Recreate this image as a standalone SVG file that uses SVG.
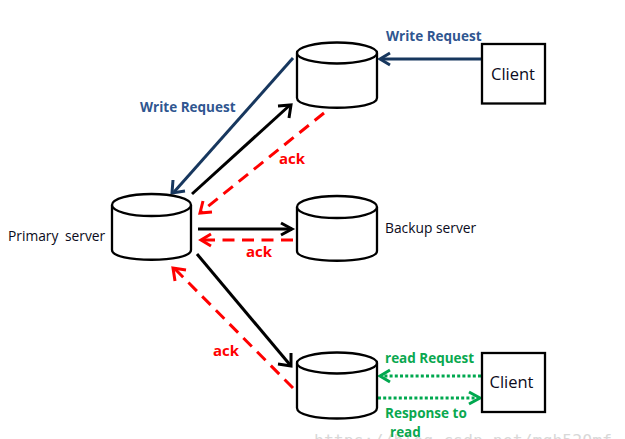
<svg xmlns="http://www.w3.org/2000/svg" width="625" height="439" viewBox="0 0 625 439">
<style>
.drum{fill:#fff;stroke:#000;stroke-width:2.3}
.box{fill:#fff;stroke:#000;stroke-width:2.3}
.lbl{font-family:"Open Sans","DejaVu Sans",sans-serif;font-size:13.8px;fill:#0b0b20}
.client{font-family:"Open Sans","Liberation Sans",sans-serif;font-size:16.5px;fill:#0b0b20}
.b{font-family:"Open Sans","DejaVu Sans",sans-serif;font-weight:700;font-size:13.5px}
.a{font-size:15px}
.blue{fill:#2f5690}.red{fill:#f00}.green{fill:#0aa84f}
.c{fill:none;stroke-linecap:butt}
.k{stroke:#000;stroke-width:3}
.n{stroke:#17375e;stroke-width:3}
.r{stroke:#f00;stroke-width:3}
.g{stroke:#00a84f;stroke-width:3}
.rd{stroke-dasharray:12 7.5}
.gd{stroke-dasharray:3 2.2}
</style>
<rect width="625" height="439" fill="#fff"/>
<!-- site address along the bottom edge -->
<text x="314" y="445.5" font-family="'DejaVu Sans Mono',monospace" font-size="16.5" fill="#d8d8d8">https://blog.csdn.net/mqh520mf</text>
<g id="connectors">
<path class="c n" d="M482 59H381"/><path class="c n" d="M390 53l-10 6 10 6"/>
<path class="c n" d="M293 58L174 192"/><path class="c n" d="M173 180l-1 13 13-2"/>
<path class="c k" d="M192 194L290 105"/><path class="c k" d="M278 106l13-1-2 13"/>
<path class="c r rd" d="M324 113L201 212"/><path class="c r" d="M212 212l-12 1 3-12"/>
<path class="c k" d="M198 229H292"/><path class="c k" d="M281 223l11 6-11 6"/>
<path class="c r rd" d="M293 240H201"/><path class="c r" d="M211 234l-10 6 10 6"/>
<path class="c k" d="M197 254L291 366"/><path class="c k" d="M278 364l13 2 0-13"/>
<path class="c r rd" d="M293 388L175 269"/><path class="c r" d="M175 281l-2-13 13 2"/>
<path class="c g gd" d="M481 376H381"/><path class="c g" d="M390 370l-10 6 10 6"/>
<path class="c g gd" d="M378 398H479"/><path class="c g" d="M469 392l11 6-11 6"/>
</g>
<g id="replica-top"><path class="drum" d="M297 53V98C297 111 377 111 377 98V53"/><ellipse class="drum" cx="337" cy="53" rx="40" ry="10.5"/></g>
<g id="primary-server"><path class="drum" d="M112 205V250C112 263 191 263 191 250V205"/><ellipse class="drum" cx="151.500" cy="205" rx="39.500" ry="11"/><text class="lbl" x="8" y="240.500" word-spacing="3">Primary server</text></g>
<g id="backup-server"><path class="drum" d="M297 207V251C297 264 377 264 377 251V207"/><ellipse class="drum" cx="337" cy="207" rx="40" ry="11"/><text class="lbl" x="385" y="233">Backup server</text></g>
<g id="replica-bottom"><path class="drum" d="M297 363V408C297 422 377 422 377 408V363"/><ellipse class="drum" cx="337" cy="363" rx="40" ry="10.500"/></g>
<g id="client-write"><rect class="box" x="482" y="44" width="63" height="59.500"/><text class="client" x="513" y="79.500" text-anchor="middle">Client</text></g>
<g id="client-read"><rect class="box" x="482" y="353" width="63" height="59"/><text class="client" x="511.500" y="388" text-anchor="middle">Client</text></g>
<g id="labels">
<text class="b blue" x="386" y="40.500">Write Request</text>
<text class="b blue" x="140" y="111.500">Write Request</text>
<text class="b red a" x="279" y="163.500">ack</text>
<text class="b red a" x="246" y="256.500">ack</text>
<text class="b red a" x="213" y="355.500">ack</text>
<text class="b green" x="385" y="363">read Request</text>
<text class="b green" x="385" y="417.500">Response to</text>
<text class="b green" x="390" y="437">read</text>
</g>
</svg>
